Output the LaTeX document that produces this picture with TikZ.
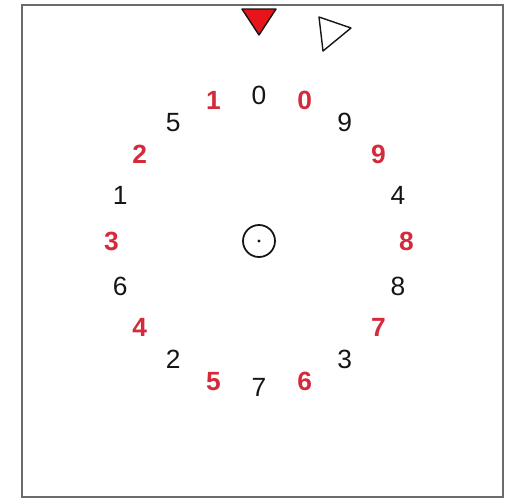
\documentclass[tikz,border=0pt]{standalone}
\usepackage{fontspec}
\setmainfont{Liberation Sans}
\usepackage{xcolor}
\definecolor{ink}{HTML}{151515}
\definecolor{dialred}{HTML}{D42A3C}
\definecolor{markred}{HTML}{E8141C}
\definecolor{framegray}{HTML}{6B6B6B}

\begin{document}
\begin{tikzpicture}[
  digit/.style={font=\fontsize{15}{18}\selectfont,inner sep=0pt},
  blackdigit/.style={digit,text=ink},
  reddigit/.style={digit,text=dialred,font=\fontsize{15}{18}\selectfont\bfseries}
]
\useasboundingbox (-5.18,-5.16) rectangle (5.02,4.82);
\draw[framegray,line width=0.7pt] (-4.74,-5.12) rectangle (4.88,4.72);
% index marks at the top
\filldraw[fill=markred,draw=ink,line width=0.8pt,line join=round]
  (-0.34,4.64) -- (0.34,4.64) -- (0,4.12) -- cycle;
\draw[ink,line width=0.8pt,line join=round]
  (1.2,4.48) -- (1.84,4.26) -- (1.28,3.8) -- cycle;
% hub
\node[draw=ink,circle,line width=1pt,minimum size=0.64cm,inner sep=0pt] (hub) at (0,0) {};
\fill[ink] (hub.center) circle (0.9pt);
% the two rings of digits
\foreach \ang/\lab [count=\i] in {90/0,54/9,18/4,-18/8,-54/3,-90/7,-126/2,-162/6,162/1,126/5}
{
\node[blackdigit] (b\i) at (\ang:2.92) {\lab};
}
\foreach \ang/\lab [count=\i] in {72/0,36/9,0/8,-36/7,-72/6,-108/5,-144/4,180/3,144/2,108/1}
{
\node[reddigit] (r\i) at (\ang:2.95) {\lab};
}
\end{tikzpicture}
\end{document}
